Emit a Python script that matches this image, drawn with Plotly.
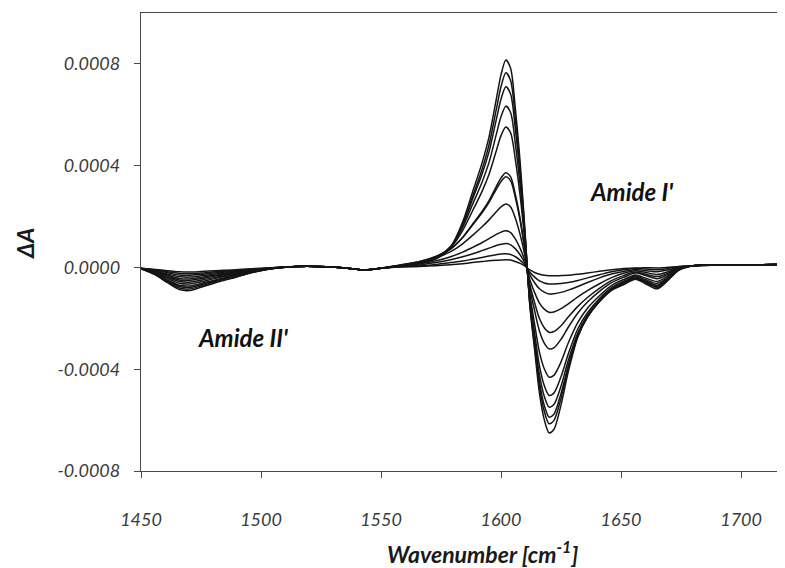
import plotly.graph_objects as go

# Wavenumber grid (cm^-1)
wavenumber = [1450, 1456, 1461, 1466, 1470, 1475, 1481, 1488, 1496, 1505,
              1515, 1527, 1537, 1543, 1550,
              1558, 1566, 1573, 1579, 1584, 1588, 1592, 1595, 1598, 1600, 1602, 1604, 1606, 1608, 1610,
              1612, 1614, 1616, 1618, 1620, 1622, 1625, 1628, 1632, 1636, 1641, 1646, 1651, 1656, 1660,
              1665, 1669, 1674, 1680, 1692, 1705, 1718]

# Difference spectra, values in units of 1e-4 absorbance
curve_01 = [-0.05, -0.29, -0.60, -0.87, -0.91, -0.78, -0.60, -0.43, -0.21, -0.04,
            0.04, 0.03, -0.04, -0.10, -0.03,
            0.04, 0.16, 0.37, 0.82, 1.79, 2.93, 4.08, 5.13, 6.60, 7.58, 8.15, 7.82, 6.19, 4.08, 1.39,
            -1.50, -3.25, -4.94, -5.98, -6.50, -6.37, -5.40, -4.10, -2.73, -1.95, -1.34, -0.90, -0.68, -0.46, -0.63,
            -0.84, -0.56, -0.11, 0.07, 0.10, 0.10, 0.12]
curve_02 = [-0.05, -0.28, -0.56, -0.81, -0.85, -0.73, -0.56, -0.40, -0.20, -0.04,
            0.04, 0.03, -0.04, -0.10, -0.03,
            0.04, 0.15, 0.34, 0.77, 1.68, 2.75, 3.83, 4.82, 6.20, 7.11, 7.65, 7.34, 5.81, 3.83, 1.30,
            -1.43, -3.10, -4.68, -5.65, -6.14, -6.02, -5.14, -3.96, -2.70, -1.95, -1.34, -0.89, -0.65, -0.43, -0.59,
            -0.79, -0.53, -0.10, 0.07, 0.10, 0.10, 0.12]
curve_03 = [-0.05, -0.26, -0.52, -0.75, -0.79, -0.68, -0.52, -0.37, -0.19, -0.04,
            0.04, 0.03, -0.04, -0.10, -0.03,
            0.06, 0.18, 0.39, 0.81, 1.66, 2.65, 3.64, 4.55, 5.80, 6.62, 7.10, 6.81, 5.40, 3.56, 1.21,
            -1.39, -2.99, -4.50, -5.42, -5.88, -5.77, -4.95, -3.85, -2.66, -1.93, -1.33, -0.88, -0.63, -0.41, -0.56,
            -0.74, -0.50, -0.09, 0.07, 0.10, 0.10, 0.12]
curve_04 = [-0.04, -0.24, -0.49, -0.70, -0.73, -0.63, -0.49, -0.35, -0.17, -0.04,
            0.04, 0.03, -0.04, -0.10, -0.03,
            0.07, 0.20, 0.41, 0.81, 1.57, 2.45, 3.33, 4.13, 5.22, 5.93, 6.34, 6.08, 4.83, 3.18, 1.08,
            -1.31, -2.81, -4.21, -5.06, -5.49, -5.39, -4.66, -3.66, -2.57, -1.88, -1.29, -0.84, -0.59, -0.38, -0.52,
            -0.70, -0.47, -0.09, 0.07, 0.10, 0.10, 0.12]
curve_05 = [-0.04, -0.22, -0.43, -0.62, -0.65, -0.56, -0.43, -0.31, -0.16, -0.03,
            0.04, 0.03, -0.04, -0.10, -0.03,
            0.07, 0.20, 0.41, 0.78, 1.45, 2.20, 2.97, 3.66, 4.58, 5.18, 5.52, 5.29, 4.21, 2.78, 0.95,
            -1.21, -2.59, -3.87, -4.64, -5.03, -4.94, -4.29, -3.40, -2.41, -1.78, -1.22, -0.79, -0.54, -0.35, -0.47,
            -0.63, -0.43, -0.07, 0.07, 0.10, 0.10, 0.12]
curve_06 = [-0.04, -0.20, -0.39, -0.55, -0.58, -0.50, -0.39, -0.28, -0.14, -0.03,
            0.04, 0.03, -0.04, -0.10, -0.03,
            0.09, 0.22, 0.42, 0.72, 1.18, 1.68, 2.19, 2.63, 3.18, 3.52, 3.72, 3.56, 2.85, 1.89, 0.65,
            -1.05, -2.24, -3.33, -3.98, -4.31, -4.24, -3.71, -2.97, -2.16, -1.60, -1.11, -0.71, -0.48, -0.30, -0.41,
            -0.55, -0.37, -0.06, 0.07, 0.10, 0.10, 0.12]
curve_07 = [-0.04, -0.17, -0.34, -0.49, -0.51, -0.44, -0.34, -0.25, -0.13, -0.02,
            0.04, 0.03, -0.04, -0.10, -0.03,
            0.10, 0.23, 0.44, 0.74, 1.18, 1.65, 2.14, 2.56, 3.07, 3.38, 3.56, 3.40, 2.73, 1.81, 0.62,
            -0.81, -1.71, -2.50, -2.97, -3.20, -3.16, -2.82, -2.35, -1.79, -1.36, -0.94, -0.60, -0.39, -0.22, -0.31,
            -0.44, -0.30, -0.04, 0.07, 0.10, 0.10, 0.12]
curve_08 = [-0.04, -0.16, -0.30, -0.43, -0.45, -0.39, -0.30, -0.22, -0.11, -0.02,
            0.04, 0.03, -0.04, -0.10, -0.03,
            0.09, 0.20, 0.38, 0.62, 0.93, 1.25, 1.59, 1.87, 2.19, 2.38, 2.49, 2.38, 1.92, 1.27, 0.44,
            -0.67, -1.39, -2.01, -2.37, -2.55, -2.52, -2.29, -1.95, -1.53, -1.18, -0.82, -0.52, -0.32, -0.18, -0.26,
            -0.36, -0.25, -0.03, 0.07, 0.10, 0.10, 0.12]
curve_09 = [-0.04, -0.14, -0.26, -0.36, -0.38, -0.33, -0.26, -0.19, -0.10, -0.02,
            0.04, 0.03, -0.04, -0.10, -0.03,
            0.06, 0.14, 0.26, 0.42, 0.60, 0.78, 0.97, 1.13, 1.30, 1.39, 1.44, 1.37, 1.11, 0.74, 0.25,
            -0.48, -0.99, -1.40, -1.64, -1.76, -1.75, -1.62, -1.43, -1.16, -0.91, -0.64, -0.40, -0.23, -0.13, -0.19,
            -0.28, -0.19, -0.01, 0.07, 0.10, 0.10, 0.12]
curve_10 = [-0.04, -0.11, -0.21, -0.30, -0.31, -0.27, -0.21, -0.16, -0.08, -0.01,
            0.04, 0.03, -0.04, -0.10, -0.03,
            0.05, 0.10, 0.19, 0.30, 0.42, 0.53, 0.66, 0.76, 0.86, 0.91, 0.94, 0.89, 0.73, 0.49, 0.17,
            -0.29, -0.60, -0.84, -0.97, -1.04, -1.03, -0.98, -0.89, -0.75, -0.59, -0.41, -0.26, -0.16, -0.08, -0.12,
            -0.17, -0.11, 0.01, 0.07, 0.10, 0.10, 0.12]
curve_11 = [-0.03, -0.10, -0.17, -0.24, -0.25, -0.22, -0.17, -0.13, -0.07, -0.01,
            0.04, 0.03, -0.04, -0.10, -0.03,
            0.03, 0.06, 0.12, 0.19, 0.25, 0.32, 0.39, 0.45, 0.50, 0.53, 0.54, 0.51, 0.42, 0.28, 0.10,
            -0.19, -0.38, -0.53, -0.61, -0.65, -0.65, -0.63, -0.59, -0.51, -0.41, -0.29, -0.17, -0.09, -0.04, -0.06,
            -0.09, -0.05, 0.03, 0.07, 0.10, 0.10, 0.12]
curve_12 = [-0.03, -0.08, -0.13, -0.17, -0.18, -0.16, -0.13, -0.10, -0.05, -0.01,
            0.04, 0.03, -0.04, -0.10, -0.03,
            0.02, 0.04, 0.07, 0.11, 0.15, 0.19, 0.23, 0.26, 0.28, 0.29, 0.30, 0.29, 0.23, 0.16, 0.05,
            -0.10, -0.20, -0.27, -0.31, -0.33, -0.33, -0.32, -0.31, -0.27, -0.22, -0.15, -0.09, -0.04, -0.02, -0.01,
            -0.02, 0.00, 0.04, 0.07, 0.10, 0.10, 0.12]

curves = [curve_01, curve_02, curve_03, curve_04, curve_05, curve_06,
          curve_07, curve_08, curve_09, curve_10, curve_11, curve_12]
UNIT = 1e-4  # values above are in units of 1e-4

y_tickvals = [-0.0008, -0.0004, 0.0, 0.0004, 0.0008]
y_ticktext = ["-0.0008", "-0.0004", "0.0000", "0.0004", "0.0008"]
x_tickvals = [1450, 1500, 1550, 1600, 1650, 1700]
x_ticktext = ["1450", "1500", "1550", "1600", "1650", "1700"]

FONT = "Lato, 'Open Sans', sans-serif"
AX = "#4a4a4a"

# the page body adds an 8 px offset; layout sized to compensate
OFF = 8
L, T, B = 141 - OFF, 13 - OFF, 97
W, H = 785 - OFF, 568 - OFF
PW, PH = W - L, H - T - B  # plot area size


def px(xp):
    return (xp - 141) / PW


def py(yp):
    return (471 - yp) / PH


fig = go.Figure()
for c in curves:
    fig.add_trace(go.Scatter(
        x=wavenumber, y=[v * UNIT for v in c], mode="lines",
        line=dict(color="#151515", width=1.5, shape="spline", smoothing=0.8),
        showlegend=False, hoverinfo="skip"))

fig.update_layout(
    width=W, height=H,
    margin=dict(l=L, r=0, t=T, b=B, autoexpand=False),
    paper_bgcolor="white", plot_bgcolor="white",
    font=dict(family=FONT, color="#404040"),
    xaxis=dict(range=[1450, 1718.3], tickvals=x_tickvals, ticktext=x_ticktext,
               showgrid=False, zeroline=False, showline=True, linecolor=AX, linewidth=1.3,
               mirror=True, ticks="outside", ticklen=6, tickwidth=1.2, tickcolor=AX,
               ticklabelstandoff=26,
               tickfont=dict(family=FONT, size=18, style="italic", color="#3a3a3a")),
    yaxis=dict(range=[-0.0008, 0.001], tickvals=y_tickvals, ticktext=y_ticktext,
               showgrid=False, zeroline=False, showline=True, linecolor=AX, linewidth=1.3,
               ticks="outside", ticklen=6, tickwidth=1.2, tickcolor=AX,
               ticklabelstandoff=10,
               tickfont=dict(family=FONT, size=18, style="italic", color="#3a3a3a")),
    annotations=[
        dict(text="Wavenumber [cm<sup>-1</sup>]", xref="paper", yref="paper",
             x=px(482), y=py(552), xanchor="center", yanchor="middle",
             showarrow=False,
             font=dict(family=FONT, size=23, color="#1a1a1a", weight="bold", style="italic")),
        dict(text="ΔA", xref="paper", yref="paper", textangle=-90,
             x=px(25), y=py(244), xanchor="center", yanchor="middle",
             showarrow=False,
             font=dict(family=FONT, size=23, color="#1a1a1a", weight="bold", style="italic")),
        dict(text="Amide I'", xref="paper", yref="paper",
             x=px(631), y=py(192), xanchor="center", yanchor="middle",
             showarrow=False,
             font=dict(family=FONT, size=24, color="#111111", weight="bold", style="italic")),
        dict(text="Amide II'", xref="paper", yref="paper",
             x=px(243), y=py(337), xanchor="center", yanchor="middle",
             showarrow=False,
             font=dict(family=FONT, size=24, color="#111111", weight="bold", style="italic")),
    ],
)

fig.write_html("out.html")
